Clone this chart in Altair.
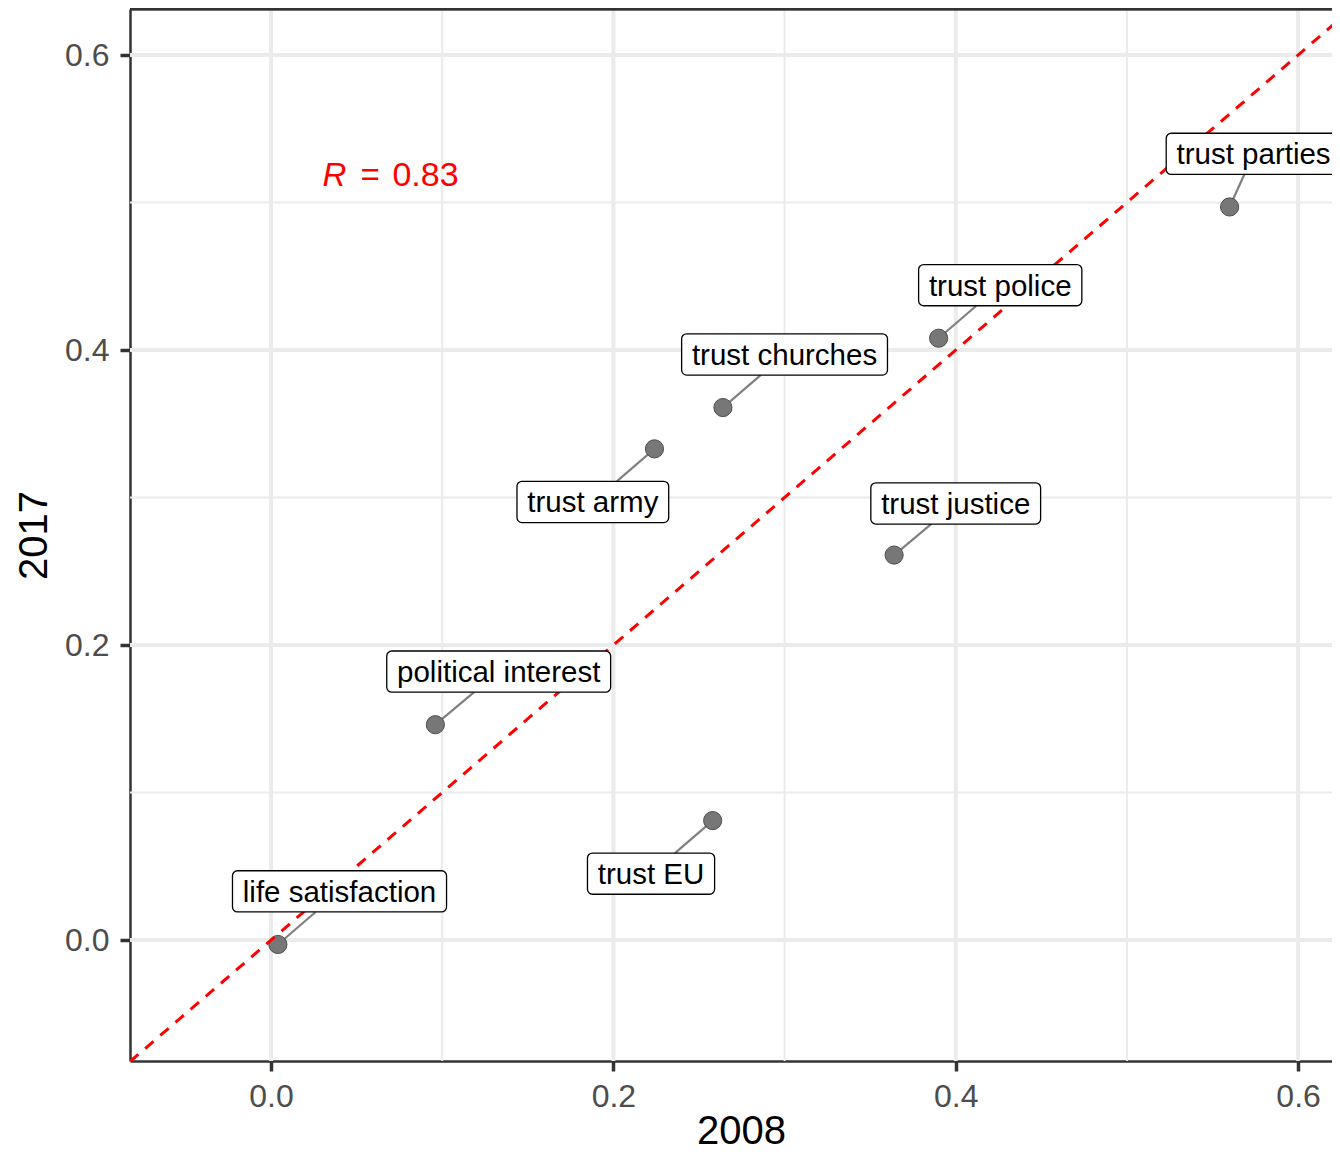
import altair as alt
import pandas as pd

# ---- data ----
items = ["life satisfaction", "political interest", "trust EU", "trust army",
         "trust churches", "trust police", "trust justice", "trust parties"]
x2008 = [0.004, 0.096, 0.258, 0.224, 0.264, 0.390, 0.364, 0.560]
y2017 = [-0.003, 0.146, 0.081, 0.333, 0.361, 0.408, 0.261, 0.497]
label_x = [0.040, 0.133, 0.222, 0.188, 0.300, 0.426, 0.400, 0.574]
label_y = [0.033, 0.182, 0.045, 0.297, 0.397, 0.444, 0.296, 0.533]
major_ticks = [0.0, 0.2, 0.4, 0.6]
minor_ticks = [0.1, 0.3, 0.5]
r_text = ["R", "=", "0.83"]
r_anchor = [0.030, 0.511]

# ---- layout / style ----
FONT = "Liberation Sans"
W, H = 1202, 1052
X_LIM = [-0.0824, -0.0824 + W / 1711.7]
Y_LIM = [-0.0820, 0.6312]
LABEL_FS = 29.5
PAD_X, HALF_H = 10.3, 20.6
BORDER = "#333333"

# Arial / Liberation Sans advance widths (per 1000 em)
ADV = dict(zip("abcdefghijklmnopqrstuvwxyz",
               [556, 556, 500, 556, 556, 278, 556, 556, 222, 222, 500, 222, 833,
                556, 556, 556, 556, 333, 500, 278, 556, 500, 722, 500, 500, 500]))
ADV.update({" ": 278, "E": 667, "U": 722})


def text_width(s, fs):
    return sum(ADV.get(c, 556) for c in s) / 1000.0 * fs


kx = W / (X_LIM[1] - X_LIM[0])
ky = H / (Y_LIM[1] - Y_LIM[0])

rows = []
for name, px, py, lx, ly in zip(items, x2008, y2017, label_x, label_y):
    hw = text_width(name, LABEL_FS) / 2 + PAD_X
    dxp = (lx - px) * kx
    dyp = (ly - py) * ky
    s = min(hw / abs(dxp) if dxp else 1e9, HALF_H / abs(dyp) if dyp else 1e9)
    s = min(s, 1.0)
    ex = lx - s * (lx - px)
    ey = ly - s * (ly - py)
    rows.append(dict(item=name, x=px, y=py, lx=lx, ly=ly,
                     bx1=lx - hw / kx, bx2=lx + hw / kx,
                     by1=ly - HALF_H / ky, by2=ly + HALF_H / ky,
                     ex=ex, ey=ey))
df = pd.DataFrame(rows)

abline = pd.DataFrame({"x": [X_LIM[0], Y_LIM[1]], "y": [X_LIM[0], Y_LIM[1]]})
major = pd.DataFrame({"v": major_ticks})
minor = pd.DataFrame({"v": minor_ticks})
ann = pd.DataFrame({"x": [r_anchor[0]], "y": [r_anchor[1]]})

xs = alt.Scale(domain=X_LIM, nice=False, zero=False)
ys = alt.Scale(domain=Y_LIM, nice=False, zero=False)

common_axis = dict(values=major_ticks, format=".1f", grid=False,
                   domain=True, domainColor=BORDER, domainWidth=2.5,
                   ticks=True, tickSize=10, tickWidth=3.5, tickColor=BORDER,
                   labelFontSize=32, labelColor="#4d4d4d", labelFont=FONT,
                   labelFlush=False, titleFontSize=40, titleFont=FONT,
                   titleColor="black", titleFontWeight="normal",
                   titleBaseline="alphabetic", titleAlign="center")
xaxis = alt.Axis(title="2008", labelPadding=10, titleX=611, titleY=82, **common_axis)
yaxis = alt.Axis(title="2017", labelPadding=11, titleX=-84, titleY=526,
                 titleAngle=270, **common_axis)


def X(f):
    return alt.X(f, type="quantitative", scale=xs, axis=xaxis)


def Y(f):
    return alt.Y(f, type="quantitative", scale=ys, axis=yaxis)


minor_v = alt.Chart(minor).mark_rule(color="#ebebeb", strokeWidth=2).encode(x=X("v"))
minor_h = alt.Chart(minor).mark_rule(color="#ebebeb", strokeWidth=2).encode(y=Y("v"))
major_v = alt.Chart(major).mark_rule(color="#ebebeb", strokeWidth=4).encode(x=X("v"))
major_h = alt.Chart(major).mark_rule(color="#ebebeb", strokeWidth=4).encode(y=Y("v"))

top_border = alt.Chart(major).mark_rule(color=BORDER, strokeWidth=2.5).encode(
    y=alt.value(0), x=alt.value(0), x2=alt.value(W))

points = alt.Chart(df).mark_point(filled=True, shape="circle", size=330,
                                  fill="#777777", stroke="#4d4d4d",
                                  strokeWidth=1, opacity=1).encode(x=X("x"), y=Y("y"))

diag = alt.Chart(abline).mark_line(color="red", strokeWidth=3,
                                   strokeDash=[11, 9], clip=True).encode(x=X("x"), y=Y("y"))

segs = alt.Chart(df).mark_rule(color="#808080", strokeWidth=2.2).encode(
    x=X("x"), y=Y("y"), x2="ex", y2="ey")

boxes = alt.Chart(df).mark_rect(fill="white", stroke="black", strokeWidth=1.3,
                                cornerRadius=5).encode(
    x=X("bx1"), x2="bx2", y=Y("by1"), y2="by2")

texts = alt.Chart(df).mark_text(font=FONT, fontSize=LABEL_FS, color="black",
                                align="center", baseline="alphabetic", dy=10.5).encode(
    x=X("lx"), y=Y("ly"), text="item:N")

r_italic = alt.Chart(ann).mark_text(font=FONT, fontSize=33, color="red", fontStyle="italic",
                                    align="left", baseline="alphabetic", text=r_text[0]).encode(
    x=X("x"), y=Y("y"))
r_eq = alt.Chart(ann).mark_text(font=FONT, fontSize=33, color="red",
                                align="left", baseline="alphabetic", dx=38, text=r_text[1]).encode(
    x=X("x"), y=Y("y"))
r_val = alt.Chart(ann).mark_text(font=FONT, fontSize=34, color="red",
                                 align="left", baseline="alphabetic", dx=70, text=r_text[2]).encode(
    x=X("x"), y=Y("y"))

chart = alt.layer(minor_v, minor_h, major_v, major_h, top_border, segs, points, diag,
                  boxes, texts, r_italic, r_eq, r_val).properties(
    width=W, height=H,
    autosize=alt.AutoSizeParams(type="none"),
    padding={"left": 122, "top": 1, "right": 0, "bottom": 92},
    background="white",
).configure_view(stroke=None)

chart.save("out.html", embed_options={"renderer": "svg", "actions": False})
